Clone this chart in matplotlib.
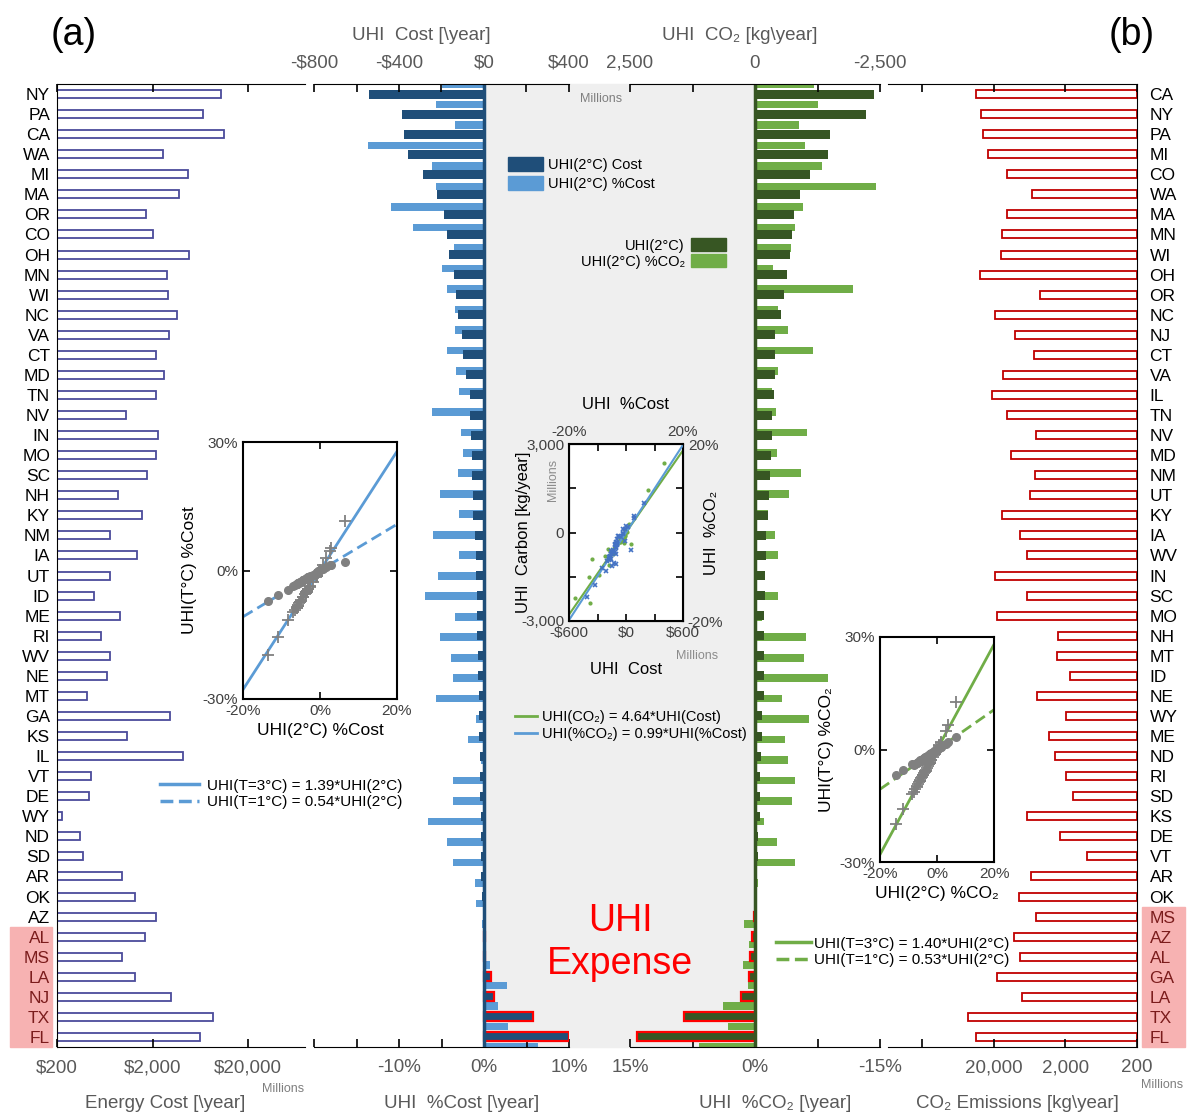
import numpy as np
import matplotlib
matplotlib.use('Agg')
import matplotlib.pyplot as plt
from matplotlib.patches import Rectangle, Patch
from matplotlib.lines import Line2D
from matplotlib.ticker import NullLocator
from matplotlib.transforms import blended_transform_factory

plt.rcParams['font.family'] = ['Liberation Sans', 'DejaVu Sans']

W, H = 1189, 1115

# ---------------- data ----------------
# panel (a): states sorted by UHI cost
states_a = ['NY', 'PA', 'CA', 'WA', 'MI', 'MA', 'OR', 'CO', 'OH', 'MN', 'WI', 'NC',
            'VA', 'CT', 'MD', 'TN', 'NV', 'IN', 'MO', 'SC', 'NH', 'KY', 'NM', 'IA',
            'UT', 'ID', 'ME', 'RI', 'WV', 'NE', 'MT', 'GA', 'KS', 'IL', 'VT', 'DE',
            'WY', 'ND', 'SD', 'AR', 'OK', 'AZ', 'AL', 'MS', 'LA', 'NJ', 'TX', 'FL']
energy_cost = [10480, 6720, 11300, 2600, 4740, 3760, 1690, 2030, 4830, 2830, 2930, 3600,
               3010, 2160, 2630, 2200, 1060, 2300, 2190, 1760, 877, 1560, 723, 1370,
               723, 483, 920, 577, 723, 672, 411, 3070, 1070, 4160, 455, 435,
               228, 352, 372, 966, 1300, 2200, 1660, 966, 1300, 3160, 8650, 6250]
uhi_cost = [-540, -387, -378, -356, -289, -220, -187, -174, -166, -141, -133, -122,
            -102, -97, -83, -67, -66, -63, -58, -55, -50, -50, -44, -39,
            -38, -34, -34, -31, -28, -27, -25, -24, -22, -20, -18, -17,
            -16, -15, -14, -12, -10, -4, 4, 7, 35, 48, 230, 398]
pct_cost = [-5.0, -5.7, -3.4, -13.6, -6.1, -5.7, -10.9, -8.3, -3.5, -4.9, -4.4, -3.4,
            -3.4, -4.3, -3.3, -3.0, -6.1, -2.7, -2.5, -3.1, -5.2, -3.0, -6.0, -3.0,
            -5.4, -6.9, -3.4, -5.2, -3.9, -3.6, -5.7, -0.9, -1.9, -0.4, -3.6, -3.7,
            -6.6, -4.4, -3.7, -1.1, -0.9, -0.2, 0.1, 0.7, 2.7, 1.6, 2.8, 6.4]
cost_3c = [-7.2, -8.2, -4.9, -19.7, -8.8, -8.2, -15.5, -11.6, -5.0, -7.0, -6.3, -4.8,
           -4.9, -6.1, -4.7, -4.3, -8.7, -3.9, -3.6, -4.4, -7.4, -4.3, -8.5, -4.3,
           -7.7, -9.6, -4.8, -7.4, -5.6, -5.1, -8.1, -1.3, -2.7, -0.6, -5.1, -5.3,
           -9.3, -6.3, -5.3, -1.6, -1.3, -0.3, 0.2, 1.2, 4.5, 2.9, 5.3, 11.5]
cost_1c = [-2.6, -3.0, -1.8, -7.1, -3.2, -3.0, -5.7, -4.5, -1.9, -2.6, -2.3, -1.8,
           -1.8, -2.3, -1.8, -1.6, -3.2, -1.5, -1.4, -1.7, -2.8, -1.6, -3.2, -1.6,
           -2.9, -3.6, -1.8, -2.8, -2.1, -1.9, -3.0, -0.5, -1.0, -0.2, -1.9, -2.0,
           -3.5, -2.3, -2.0, -0.6, -0.5, -0.1, 0.1, 0.4, 1.3, 0.9, 1.2, 2.1]

# panel (b): states sorted by UHI CO2
states_b = ['CA', 'NY', 'PA', 'MI', 'CO', 'WA', 'MA', 'MN', 'WI', 'OH', 'OR', 'NC',
            'NJ', 'CT', 'VA', 'IL', 'TN', 'NV', 'MD', 'NM', 'UT', 'KY', 'IA', 'WV',
            'IN', 'SC', 'MO', 'NH', 'MT', 'ID', 'NE', 'WY', 'ME', 'ND', 'RI', 'SD',
            'KS', 'DE', 'VT', 'AR', 'OK', 'MS', 'AZ', 'AL', 'GA', 'LA', 'TX', 'FL']
co2_emis = [35100, 29900, 28100, 24300, 13200, 5890, 13200, 15300, 15800, 31000, 4590, 19400,
            10000, 5450, 15000, 21000, 13200, 5220, 11600, 5340, 6210, 15300, 8650, 6900,
            19500, 6900, 18300, 2550, 2650, 1730, 4960, 1970, 3370, 2770, 1980, 1570,
            6980, 2380, 1000, 6100, 8840, 5200, 10600, 8530, 17900, 8200, 46000, 35100]
uhi_co2 = [-2382, -2227, -1498, -1451, -1100, -891, -783, -742, -708, -641, -570, -510,
           -402, -395, -391, -372, -337, -337, -324, -304, -270, -256, -223, -223,
           -202, -202, -189, -175, -170, -170, -170, -148, -135, -121, -108, -100,
           -95, -67, -60, -20, -10, 25, 60, 95, 115, 280, 1430, 2360]
pct_co2 = [-7.1, -7.6, -5.3, -6.0, -8.0, -14.5, -5.8, -4.8, -4.3, -2.1, -11.8, -2.7,
           -4.0, -7.0, -2.7, -2.0, -2.5, -6.2, -2.6, -5.5, -4.1, -1.5, -2.4, -2.8,
           -0.9, -2.8, -0.8, -6.1, -5.9, -8.8, -3.2, -6.5, -3.6, -3.9, -4.8, -4.4,
           -1.1, -2.6, -4.8, -0.3, -0.1, 1.3, 0.7, 1.4, 0.8, 3.8, 3.2, 6.7]
co2_3c = [-10.0, -10.6, -7.4, -8.4, -11.2, -19.8, -8.1, -6.7, -6.0, -2.9, -15.9, -3.8,
          -5.6, -9.8, -3.8, -2.8, -3.5, -8.7, -3.6, -7.7, -5.7, -2.1, -3.4, -3.9,
          -1.3, -3.9, -1.1, -8.5, -8.3, -11.9, -4.5, -9.1, -5.0, -5.5, -6.7, -6.2,
          -1.5, -3.6, -6.7, -0.4, -0.1, 1.8, 1.0, 2.0, 1.1, 6.5, 5.0, 12.7]
co2_1c = [-3.6, -3.9, -2.7, -3.0, -4.1, -6.9, -2.9, -2.4, -2.2, -1.1, -5.5, -1.4,
          -2.0, -3.6, -1.4, -1.0, -1.3, -3.2, -1.3, -2.8, -2.1, -0.8, -1.2, -1.4,
          -0.5, -1.4, -0.4, -3.1, -3.0, -3.8, -1.6, -3.3, -1.8, -2.0, -2.4, -2.2,
          -0.6, -1.3, -2.4, -0.2, -0.1, 0.6, 0.3, 0.7, 0.4, 1.9, 1.6, 3.3]

highlight_a = ['AL', 'MS', 'LA', 'NJ', 'TX', 'FL']
highlight_b = ['MS', 'AZ', 'AL', 'GA', 'LA', 'TX', 'FL']

fit_cost = (1.39, 0.54)   # UHI(T=3C), UHI(T=1C) vs UHI(2C), %Cost
fit_co2 = (1.40, 0.53)    # same for %CO2
fit_cross = (4.64, 0.99)  # CO2 vs Cost, %CO2 vs %Cost

# ---------------- style ----------------
navy, lblue = '#1f4e79', '#5b9bd5'
dgreen, lgreen = '#375623', '#70ad47'
grey = '#595959'
pink = '#f7b2b2'
ptgrey = '#808080'


def box(x0, y0, x1, y1):
    return [x0 / W, 1 - y1 / H, (x1 - x0) / W, (y1 - y0) / H]


def fxy(x, y):
    return (x / W, 1 - y / H)


fig = plt.figure(figsize=(W / 100, H / 100), dpi=100)

n = len(states_a)
rows = np.arange(n)
light_pos = np.linspace(-0.5, n - 0.5, n)
ylim = (n - 0.5, -0.5)
TOP, BOT = 84, 1047

tick_kw = dict(direction='in', length=6, width=1.2, color='black',
               labelsize=13.5, labelcolor=grey, pad=9)

# ---------- panel (a): energy cost ----------
ax_a = fig.add_axes(box(57, TOP, 305, BOT))
ax_a.set_facecolor('none')
ax_a.set_xscale('log')
ax_a.barh(rows, np.array(energy_cost) - 200, left=200, height=0.4,
          color='white', edgecolor='#4b4b9b', lw=1.3)
ax_a.set_xlim(200, 79000)
ax_a.set_ylim(*ylim)
ax_a.set_yticks(rows, states_a, fontsize=12.5)
ax_a.tick_params(axis='y', length=0, pad=5)
ax_a.set_xticks([200, 2000, 20000], ['$200', '$2,000', '$20,000'])
ax_a.xaxis.set_minor_locator(NullLocator())
ax_a.tick_params(axis='x', top=True, **tick_kw)
ax_a.spines['right'].set_visible(False)

# ---------- UHI cost panel ----------
ax_c = fig.add_axes(box(314, TOP, 569, BOT))
ax_c.set_facecolor('none')
ax_c.barh(light_pos, pct_cost, height=0.38, color=lblue)
ax_c.set_xlim(-20, 10)
ax_c.set_ylim(*ylim)
ax_c.set_yticks([])
ax_c.set_xticks([-10, 0, 10], ['-10%', '0%', '10%'])
ax_c.set_xticks([-20, -15, -5, 5], minor=True)
ax_c.tick_params(axis='x', which='both', **tick_kw)
for s in ['left', 'right', 'top']:
    ax_c.spines[s].set_visible(False)

ax_c2 = ax_c.twiny()
edge_c = ['red' if v > 0 else navy for v in uhi_cost]
lw_c = [1.6 if v > 0 else 0 for v in uhi_cost]
ax_c2.barh(rows, uhi_cost, height=0.45, color=navy, edgecolor=edge_c, linewidth=lw_c)
ax_c2.axvline(0, color=navy, lw=2.5)
ax_c2.set_xlim(-800, 400)
ax_c2.set_ylim(*ylim)
ax_c2.set_xticks([-800, -400, 0, 400], ['-$800', '-$400', '$0', '$400'])
ax_c2.set_xticks([-600, -200, 200], minor=True)
ax_c2.tick_params(axis='x', which='both', **tick_kw)
for s in ['left', 'right', 'bottom']:
    ax_c2.spines[s].set_visible(False)

# ---------- UHI CO2 panel ----------
ax_g = fig.add_axes(box(630, TOP, 880, BOT))
ax_g.set_facecolor('none')
ax_g.barh(light_pos, pct_co2, height=0.38, color=lgreen)
ax_g.set_xlim(15, -15)
ax_g.set_ylim(*ylim)
ax_g.set_yticks([])
ax_g.set_xticks([15, 0, -15], ['15%', '0%', '-15%'])
ax_g.set_xticks([7.5, -7.5], minor=True)
ax_g.tick_params(axis='x', which='both', **tick_kw)
for s in ['left', 'right', 'top']:
    ax_g.spines[s].set_visible(False)

ax_g2 = ax_g.twiny()
edge_g = ['red' if v > 0 else dgreen for v in uhi_co2]
lw_g = [1.6 if v > 0 else 0 for v in uhi_co2]
ax_g2.barh(rows, uhi_co2, height=0.45, color=dgreen, edgecolor=edge_g, linewidth=lw_g)
ax_g2.axvline(0, color=dgreen, lw=2.5)
ax_g2.set_xlim(2500, -2500)
ax_g2.set_ylim(*ylim)
ax_g2.set_xticks([2500, 0, -2500], ['2,500', '0', '-2,500'])
ax_g2.set_xticks([1250, -1250], minor=True)
ax_g2.tick_params(axis='x', which='both', **tick_kw)
for s in ['left', 'right', 'bottom']:
    ax_g2.spines[s].set_visible(False)

# grey "expense" band between the two zero lines
x_zero_c = 314 + (0 - (-20)) / 30 * 255
x_zero_g = 630 + (15 - 0) / 30 * 250
fig.add_artist(Rectangle(fxy(x_zero_c, BOT), (x_zero_g - x_zero_c) / W, (BOT - TOP) / H,
                         transform=fig.transFigure, color='#efefef', zorder=-1))

# ---------- panel (b): CO2 emissions ----------
ax_b = fig.add_axes(box(888, TOP, 1137, BOT))
ax_b.set_facecolor('none')
ax_b.set_xscale('log')
ax_b.barh(rows, np.array(co2_emis) - 200, left=200, height=0.4,
          color='white', edgecolor='#c00000', lw=1.3)
ax_b.set_xlim(604000, 200)
ax_b.set_ylim(*ylim)
ax_b.yaxis.tick_right()
ax_b.set_yticks(rows, states_b, fontsize=12.5)
ax_b.tick_params(axis='y', length=0, pad=9)
ax_b.set_xticks([200000, 20000, 2000, 200], ['', '20,000', '2,000', '200'])
ax_b.xaxis.set_minor_locator(NullLocator())
ax_b.tick_params(axis='x', top=True, **tick_kw)
ax_b.spines['left'].set_visible(False)

# highlighted states
for ax, names, hl, x0, x1 in [(ax_a, states_a, highlight_a, -0.19, -0.02),
                              (ax_b, states_b, highlight_b, 1.02, 1.193)]:
    idx = [names.index(s) for s in hl]
    tr = blended_transform_factory(ax.transAxes, ax.transData)
    ax.add_patch(Rectangle((x0, min(idx) - 0.5), x1 - x0, max(idx) - min(idx) + 1,
                           transform=tr, color=pink, clip_on=False, zorder=0))
    for lbl in ax.get_yticklabels():
        if lbl.get_text() in hl:
            lbl.set_color('#7b1c1c')


# ---------- insets: %Cost / %CO2 at 1C and 3C ----------
def scatter_inset(bx, xs, y3, y1, fit, col, xlab, ylab):
    ax = fig.add_axes(bx)
    ax.axline((0, 0), slope=fit[0], color=col, lw=2)
    ax.axline((0, 0), slope=fit[1], color=col, lw=2, ls=(0, (4, 2)))
    ax.plot(xs, y3, '+', color=ptgrey, ms=9, mew=1.3)
    ax.plot(xs, y1, 'o', color=ptgrey, ms=5.5)
    ax.set_xlim(-20, 20)
    ax.set_ylim(-30, 30)
    ax.set_xticks([-20, 0, 20], ['-20%', '0%', '20%'])
    ax.set_yticks([-30, 0, 30], ['-30%', '0%', '30%'])
    ax.tick_params(direction='in', top=True, right=True, length=5, width=1.2,
                   labelsize=11, labelcolor='#404040')
    for s in ax.spines.values():
        s.set_linewidth(1.5)
    ax.set_xlabel(xlab, fontsize=12.5)
    ax.set_ylabel(ylab, fontsize=12.5)
    return ax


scatter_inset(box(243, 442, 397, 699), pct_cost, cost_3c, cost_1c, fit_cost, lblue,
              'UHI(2°C) %Cost', 'UHI(T°C) %Cost')
scatter_inset(box(880, 637, 994, 862), pct_co2, co2_3c, co2_1c, fit_co2, lgreen,
              'UHI(2°C) %CO₂', 'UHI(T°C) %CO₂')

fig.legend([Line2D([], [], color=lblue, lw=2.5), Line2D([], [], color=lblue, lw=2.5, ls='--')],
           ['UHI(T=3°C) = %.2f*UHI(2°C)' % fit_cost[0], 'UHI(T=1°C) = %.2f*UHI(2°C)' % fit_cost[1]],
           loc='upper left', bbox_to_anchor=fxy(152, 771), frameon=False, fontsize=11,
           handlelength=2.6, labelspacing=0.15, borderpad=0, handletextpad=0.5)
fig.legend([Line2D([], [], color=lgreen, lw=2.5), Line2D([], [], color=lgreen, lw=2.5, ls='--')],
           ['UHI(T=3°C) = %.2f*UHI(2°C)' % fit_co2[0], 'UHI(T=1°C) = %.2f*UHI(2°C)' % fit_co2[1]],
           loc='upper left', bbox_to_anchor=fxy(768, 929), frameon=False, fontsize=11,
           handlelength=2.3, labelspacing=0.15, borderpad=0, handletextpad=0.2)

# ---------- inset: CO2 vs Cost ----------
cost_of = dict(zip(states_a, uhi_cost))
co2_of = dict(zip(states_b, uhi_co2))
pcost_of = dict(zip(states_a, pct_cost))
pco2_of = dict(zip(states_b, pct_co2))

ax_i2 = fig.add_axes(box(569, 444, 683, 621))
ax_i2.axline((0, 0), slope=fit_cross[0], color=lgreen, lw=1.5)
ax_i2.plot([cost_of[s] for s in states_a], [co2_of[s] for s in states_a], '.',
           color=lgreen, ms=4)
ax_i2.set_xlim(-600, 600)
ax_i2.set_ylim(-3000, 3000)
ax_i2.set_xticks([-600, -300, 0, 300, 600], ['-$600', '', '$0', '', '$600'])
ax_i2.set_yticks([-3000, -1500, 0, 1500, 3000], ['-3,000', '', '0', '', '3,000'])
ax_i2.tick_params(direction='in', length=5, width=1.2, labelsize=11, labelcolor='#404040')
for s in ax_i2.spines.values():
    s.set_linewidth(1.5)
ax_i2.set_xlabel('UHI  Cost', fontsize=12)
ax_i2.xaxis.set_label_coords(0.5, -0.23)
ax_i2.set_ylabel('UHI  Carbon [kg/year]', fontsize=12)
ax_i2.yaxis.set_label_coords(-0.33, 0.5)

ax_p = fig.add_axes(box(569, 444, 683, 621))
ax_p.set_facecolor('none')
ax_p.axline((0, 0), slope=fit_cross[1], color=lblue, lw=1.5)
ax_p.plot([pcost_of[s] for s in states_a], [pco2_of[s] for s in states_a], 'x',
          color='#4472c4', ms=3.5, mew=1.2)
ax_p.set_xlim(-20, 20)
ax_p.set_ylim(-20, 20)
ax_p.xaxis.tick_top()
ax_p.yaxis.tick_right()
ax_p.set_xticks([-20, -10, 0, 10, 20], ['-20%', '', '', '', '20%'])
ax_p.set_yticks([-20, -10, 0, 10, 20], ['-20%', '', '', '', '20%'])
ax_p.tick_params(direction='in', length=5, width=1.2, labelsize=11, labelcolor='#404040')
ax_p.xaxis.set_label_position('top')
ax_p.yaxis.set_label_position('right')
ax_p.set_xlabel('UHI  %Cost', fontsize=12)
ax_p.xaxis.set_label_coords(0.5, 1.2)
ax_p.set_ylabel('UHI  %CO₂', fontsize=12)
ax_p.yaxis.set_label_coords(1.18, 0.5)

fig.text(*fxy(553, 480), 'Millions', rotation=90, fontsize=9, color='#8c8c8c',
         ha='center', va='center')
fig.text(*fxy(697, 656), 'Millions', fontsize=9, color='#8c8c8c', ha='center', va='center')

fig.legend([Line2D([], [], color=lgreen, lw=2), Line2D([], [], color=lblue, lw=2)],
           ['UHI(CO₂) = %.2f*UHI(Cost)' % fit_cross[0],
            'UHI(%%CO₂) = %.2f*UHI(%%Cost)' % fit_cross[1]],
           loc='upper left', bbox_to_anchor=fxy(508, 703), frameon=False, fontsize=10.5,
           handlelength=1.5, labelspacing=0.2, borderpad=0, handletextpad=0.3)

# ---------- bar legends ----------
fig.legend([Patch(color=navy), Patch(color=lblue)],
           ['UHI(2°C) Cost', 'UHI(2°C) %Cost'],
           loc='upper left', bbox_to_anchor=fxy(501, 150), frameon=False, fontsize=10.5,
           handlelength=2.4, handleheight=1.1, labelspacing=0.25, borderpad=0,
           handletextpad=0.35)
fig.legend([Patch(color=dgreen), Patch(color=lgreen)],
           ['UHI(2°C)', 'UHI(2°C) %CO₂'],
           loc='upper right', bbox_to_anchor=fxy(733, 231), frameon=False, fontsize=10.5,
           handlelength=2.4, handleheight=1.0, labelspacing=0.1, borderpad=0,
           handletextpad=0.4, markerfirst=False)

# ---------- labels ----------
fig.text(*fxy(74, 35), '(a)', fontsize=27, ha='center', va='center')
fig.text(*fxy(1132, 35), '(b)', fontsize=27, ha='center', va='center')
title_kw = dict(fontsize=13.5, color=grey, ha='center', va='center')
fig.text(*fxy(421, 35), 'UHI  Cost [\\year]', **title_kw)
fig.text(*fxy(740, 35), 'UHI  CO₂ [kg\\year]', **title_kw)
fig.text(*fxy(165, 1104), 'Energy Cost [\\year]', **title_kw)
fig.text(*fxy(462, 1104), 'UHI  %Cost [\\year]', **title_kw)
fig.text(*fxy(775, 1104), 'UHI  %CO₂ [\\year]', **title_kw)
fig.text(*fxy(1017, 1104), 'CO₂ Emissions [kg\\year]', **title_kw)
small_kw = dict(fontsize=9, color='#7f7f7f', ha='center', va='center')
fig.text(*fxy(283, 1089), 'Millions', **small_kw)
fig.text(*fxy(1162, 1085), 'Millions', **small_kw)
fig.text(*fxy(601, 99), 'Millions', **small_kw)

fig.text(*fxy(620, 931), 'UHI', fontsize=27, color='red', ha='center', va='baseline')
fig.text(*fxy(620, 974), 'Expense', fontsize=27, color='red', ha='center', va='baseline')

fig.savefig('out.png', dpi=100)
